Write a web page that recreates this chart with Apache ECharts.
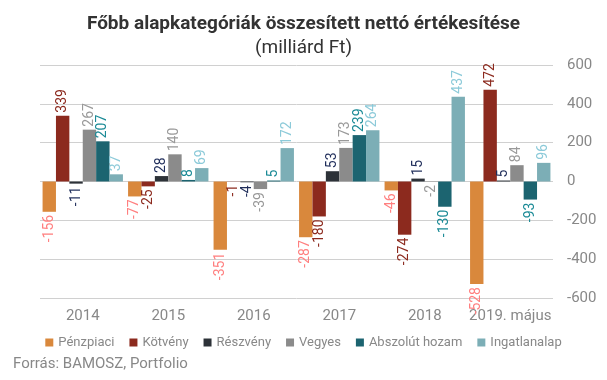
<!DOCTYPE html>
<html><head><meta charset="utf-8">
<script src="https://cdn.jsdelivr.net/npm/echarts@6/dist/echarts.min.js"></script>
<style>html,body{margin:0;padding:0;background:#fff}#c{width:607px;height:380px}</style>
</head><body><div id="c"></div>
<script>
const categories = ['2014','2015','2016','2017','2018','2019. május'];
const seriesNames = ['Pénzpiaci','Kötvény','Részvény','Vegyes','Abszolút hozam','Ingatlanalap'];
const penzpiaci = [-156, -77, -351, -287, -46, -528];
const kotveny = [339, -25, -1, -180, -274, 472];
const reszveny = [-11, 28, -4, 53, 15, 5];
const vegyes = [267, 140, -39, 173, -2, 84];
const abszolut = [207, 8, 5, 239, -130, -93];
const ingatlan = [37, 69, 172, 264, 437, 96];
const yTicks = [-600, -400, -200, 0, 200, 400, 600];

const values = [penzpiaci, kotveny, reszveny, vegyes, abszolut, ingatlan];
const barColors = ['#D9883C', '#8C2A1E', '#2D3238', '#8B8B8B', '#1C6470', '#7CAEB6'];
const labelColors = ['#FF7F7F', '#8C2A1E', '#1F2D5A', '#999999', '#1A8A96', '#8CCAD9'];

const chart = echarts.init(document.getElementById('c'));
chart.setOption({
  animation: false,
  title: {
    text: 'Főbb alapkategóriák összesített nettó értékesítése',
    subtext: '(milliárd Ft)',
    left: 'center',
    top: 10,
    itemGap: 5,
    textStyle: {fontFamily: 'Roboto', fontWeight: 'bold', fontSize: 19, color: '#333'},
    subtextStyle: {fontFamily: 'Roboto', fontSize: 19, color: '#333'}
  },
  legend: {
    data: seriesNames,
    top: 331,
    left: 'center',
    icon: 'rect',
    itemWidth: 8,
    itemHeight: 8,
    itemGap: 15,
    textStyle: {fontFamily: 'Roboto', fontSize: 13, color: '#888'}
  },
  graphic: [{
    type: 'text', left: 13, top: 357,
    style: {text: 'Forrás: BAMOSZ, Portfolio', fontFamily: 'Roboto', fontSize: 15, fill: '#888'}
  }],
  grid: {left: 40, right: 54, top: 65, bottom: 82},
  xAxis: {
    type: 'category',
    data: categories,
    axisLine: {show: false, onZero: false},
    axisTick: {show: false},
    axisLabel: {interval: 0, fontFamily: 'Roboto', fontSize: 15, color: '#888', margin: 11}
  },
  yAxis: {
    type: 'value',
    position: 'right',
    min: yTicks[0], max: yTicks[yTicks.length - 1], interval: 200,
    splitLine: {lineStyle: {color: '#d0d0d0'}},
    axisLabel: {fontFamily: 'Roboto', fontSize: 15, color: '#888', margin: 14}
  },
  series: seriesNames.map((name, i) => ({
    name: name,
    type: 'bar',
    barGap: '0%',
    barCategoryGap: '6%',
    itemStyle: {color: barColors[i]},
    label: {
      show: true,
      rotate: 90,
      distance: 3,
      verticalAlign: 'middle',
      fontFamily: 'Roboto',
      fontSize: 14,
      color: labelColors[i]
    },
    data: values[i].map(v => ({
      value: v,
      label: {position: v >= 0 ? 'top' : 'bottom', align: v >= 0 ? 'left' : 'right'}
    }))
  }))
});
</script></body></html>
